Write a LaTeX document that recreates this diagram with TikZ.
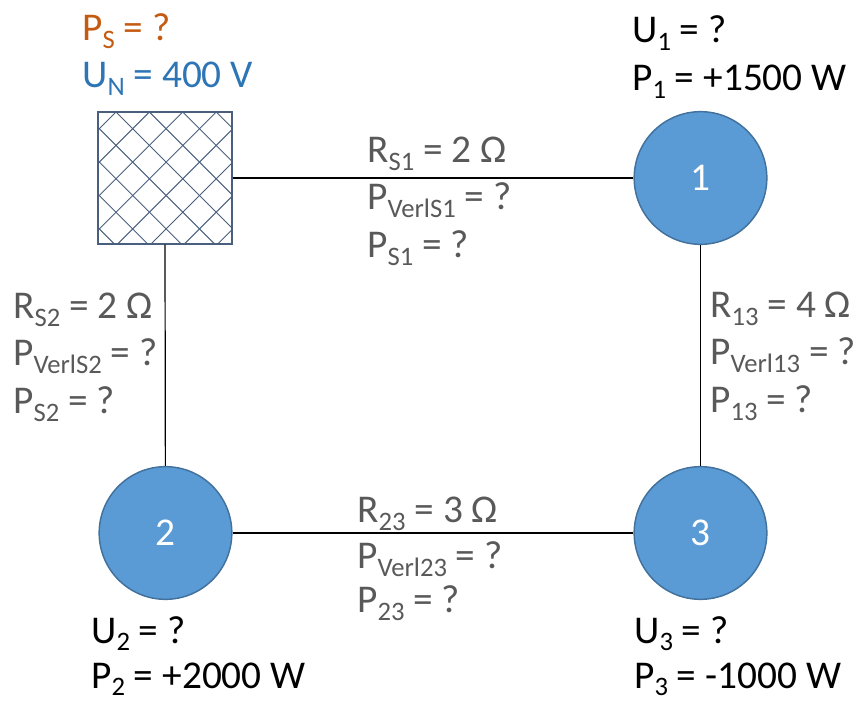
\documentclass[tikz,border=0pt]{standalone}
\usepackage{fontspec}
\setmainfont{Carlito}
\definecolor{txtgrey}{HTML}{595959}
\definecolor{psorange}{HTML}{C55A11}
\definecolor{unblue}{HTML}{2E75B6}
\definecolor{nodefill}{HTML}{5B9BD5}
\definecolor{nodeedge}{HTML}{41719C}
\definecolor{hatchcol}{HTML}{4A5F7E}
\newcommand{\lowsub}[1]{\raisebox{-0.2em}{\fontsize{20}{20}\selectfont #1}}
\tikzset{
  bus/.style={circle, fill=nodefill, draw=nodeedge, line width=1.1pt, minimum size=99.5pt, inner sep=0pt, text=white, font=\fontsize{29.5}{34}\selectfont},
  lbl/.style={anchor=base west, inner sep=0pt, font=\fontsize{29.5}{34}\selectfont},
  greylbl/.style={lbl, text=txtgrey},
  wire/.style={line width=0.9pt, black},
  gridbox/.style={draw=hatchcol, line width=1pt, minimum width=100.5pt, minimum height=99pt, inner sep=0pt},
  hatchline/.style={hatchcol, line width=0.7pt},
}
\begin{document}
\begin{tikzpicture}[x=0.75pt, y=-0.75pt]
\useasboundingbox (0,0) rectangle (858,702);
% grid node
\node[gridbox] (S) at (165,178) {};
\begin{scope}
  \clip (S.north west) rectangle (S.south east);
  \foreach \k in {-6,...,5} {
    \draw[hatchline] (116+33.4*\k,112) -- ++(160,160);
  }
  \foreach \k in {-1,...,9} {
    \draw[hatchline] (116+33.4*\k,112) -- ++(-160,160);
  }
\end{scope}
\node[gridbox] at (S) {};
% buses
\node[bus] (N1) at (700.5,178) {1};
\node[bus] (N2) at (165.5,533) {2};
\node[bus] (N3) at (700.5,533) {3};
% connectors
\draw[wire] (S.east) -- (N1);
\draw[wire] (S.south) -- (N2);
\draw[wire] (N1) -- (N3);
\draw[wire] (N2) -- (N3);
% grid labels
\node[lbl, text=psorange] (ps) at (82,41) {P\lowsub{S} = ?};
\node[lbl, text=unblue] (un) at (82,88) {U\lowsub{N} = 400 V};
% bus labels
\node[lbl] (u1) at (632,43) {U\lowsub{1} = ?};
\node[lbl] (p1) at (632,91) {P\lowsub{1} = +1500 W};
\node[lbl] (u2) at (91,643) {U\lowsub{2} = ?};
\node[lbl] (p2) at (91,688) {P\lowsub{2} = +2000 W};
\node[lbl] (u3) at (634,643) {U\lowsub{3} = ?};
\node[lbl] (p3) at (634,688) {P\lowsub{3} = -1000 W};
% line labels S1
\node[greylbl] (rs1) at (367,163) {R\lowsub{S1} = 2 Ω};
\node[greylbl] (pvs1) at (367,210) {P\lowsub{VerlS1} = ?};
\node[greylbl] (ps1) at (367,258) {P\lowsub{S1} = ?};
% line labels S2
\node[greylbl] (rs2) at (13,319) {R\lowsub{S2} = 2 Ω};
\node[greylbl] (pvs2) at (13,366) {P\lowsub{VerlS2} = ?};
\node[greylbl] (ps2) at (13,414) {P\lowsub{S2} = ?};
% line labels 13
\node[greylbl] (r13) at (710,318) {R\lowsub{13} = 4 Ω};
\node[greylbl] (pv13) at (710,365) {P\lowsub{Verl13} = ?};
\node[greylbl] (p13) at (710,413) {P\lowsub{13} = ?};
% line labels 23
\node[greylbl] (r23) at (357,523) {R\lowsub{23} = 3 Ω};
\node[greylbl] (pv23) at (357,569) {P\lowsub{Verl23} = ?};
\node[greylbl] (p23) at (357,613) {P\lowsub{23} = ?};
\end{tikzpicture}
\end{document}
